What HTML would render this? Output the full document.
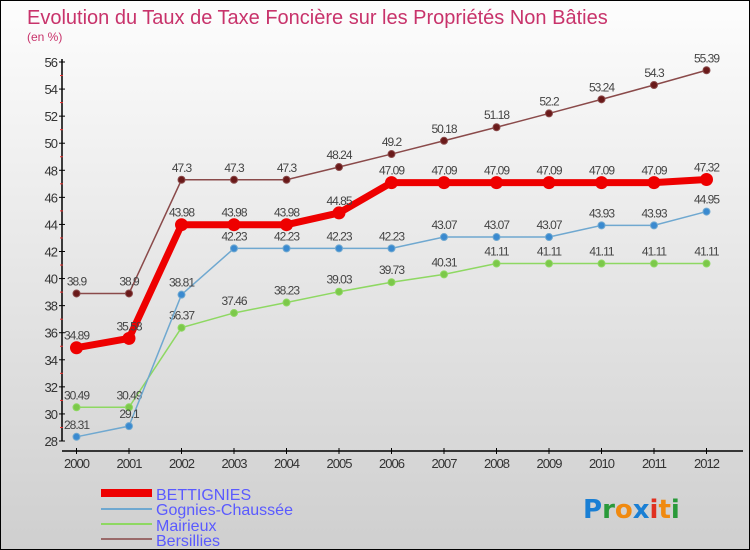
<!DOCTYPE html>
<html><head><meta charset="utf-8"><style>
body{margin:0;}
#c{width:750px;height:550px;position:relative;box-sizing:border-box;border:1px solid #000;background:linear-gradient(#fdfdfd,#cfcfcf);overflow:hidden;font-family:"Liberation Sans",sans-serif;}
</style></head><body>
<div id="c">
<svg id="s" width="750" height="550" xmlns="http://www.w3.org/2000/svg">
<text x="26" y="23" font-size="20" fill="#c8336b">Evolution du Taux de Taxe Foncière sur les Propriétés Non Bâties</text>
<text x="26" y="40" font-size="12" fill="#c8336b">(en %)</text>
<g id="axes"></g><g id="series"></g>
<g>
<rect x="100" y="488" width="51" height="8" fill="#e00"/>
<text x="155" y="499" font-size="16" fill="#5a5aff">BETTIGNIES</text>
<line x1="100" y1="508" x2="151" y2="508" stroke="#6fa8d0" stroke-width="2"/>
<text x="155" y="514" font-size="16" fill="#5a5aff">Gognies-Chaussée</text>
<line x1="100" y1="523" x2="151" y2="523" stroke="#8ed862" stroke-width="2"/>
<text x="155" y="530" font-size="16" fill="#5a5aff">Mairieux</text>
<line x1="100" y1="538" x2="151" y2="538" stroke="#9a6a6a" stroke-width="2"/>
<text x="155" y="545" font-size="16" fill="#5a5aff">Bersillies</text>
</g>
<text x="582" y="517" font-size="26" font-family="DejaVu Sans" font-weight="bold"><tspan fill="#1a7fd4">P</tspan><tspan fill="#2a9a3a">r</tspan><tspan fill="#f08a10">o</tspan><tspan fill="#1a7fd4">x</tspan><tspan fill="#e03020">i</tspan><tspan fill="#f08a10">t</tspan><tspan fill="#2a9a3a">i</tspan></text>
</svg>
</div>
<script>
const years=[2000,2001,2002,2003,2004,2005,2006,2007,2008,2009,2010,2011,2012];
const yTicks=[28,30,32,34,36,38,40,42,44,46,48,50,52,54,56];
const bettignies=[34.89,35.58,43.98,43.98,43.98,44.85,47.09,47.09,47.09,47.09,47.09,47.09,47.32];
const gognies=[28.31,29.1,38.81,42.23,42.23,42.23,42.23,43.07,43.07,43.07,43.93,43.93,44.95];
const mairieux=[30.49,30.49,36.37,37.46,38.23,39.03,39.73,40.31,41.11,41.11,41.11,41.11,41.11];
const bersillies=[38.9,38.9,47.3,47.3,47.3,48.24,49.2,50.18,51.18,52.2,53.24,54.3,55.39];
const NS="http://www.w3.org/2000/svg";
const xs=i=>75.5+i*52.5;
const ys=v=>440-(v-28)*(379/28);
function el(t,a,p){const e=document.createElementNS(NS,t);for(const k in a)e.setAttribute(k,a[k]);p.appendChild(e);return e;}
const ax=document.getElementById('axes'),sg=document.getElementById('series');
let yl=el('line',{x1:61,y1:58,x2:61,y2:440,stroke:'#000','stroke-width':1.5},ax);


let xl=el('line',{x1:61,y1:450,x2:742,y2:450,stroke:'#000','stroke-width':1.5},ax);


yTicks.forEach((v,k)=>{const y=ys(v);el('line',{x1:58,y1:y,x2:64,y2:y,stroke:'#000'},ax);
if(k<yTicks.length-1)el('line',{x1:59,y1:ys(v+1),x2:62,y2:ys(v+1),stroke:'#e33'},ax);
const t=el('text',{x:56,y:y+5,'font-size':13,fill:'#333','text-anchor':'end','letter-spacing':'-1'},ax);t.textContent=v;

});
years.forEach((yr,i)=>{const x=xs(i);el('line',{x1:x,y1:447,x2:x,y2:453,stroke:'#000'},ax);
const t=el('text',{x:x,y:467,'font-size':13,fill:'#333','text-anchor':'middle','letter-spacing':'-1'},ax);t.textContent=yr;

});
function series(d,name,col,dot,w,r){const g=el('g',{},sg);


el('polyline',{points:d.map((v,i)=>xs(i)+','+ys(v)).join(' '),fill:'none',stroke:col,'stroke-width':w},g);
d.forEach((v,i)=>{const c=el('circle',{cx:xs(i),cy:ys(v),r:r,fill:dot,stroke:col,'stroke-width':1},g);


const t=el('text',{x:xs(i),y:ys(v)-8,'font-size':12,fill:'#444','text-anchor':'middle','letter-spacing':'-1'},g);t.textContent=v;

});}
series(bersillies,'bersillies','#8a4a4a','#6a1a1a',1.5,3.5);
series(mairieux,'mairieux','#8ed862','#7cc84a',1.5,3.5);
series(gognies,'gognies','#6fa8d0','#3a8ad0',1.5,3.5);
series(bettignies,'bettignies','#ee0000','#ee0000',7,6);
</script>
</body></html>
